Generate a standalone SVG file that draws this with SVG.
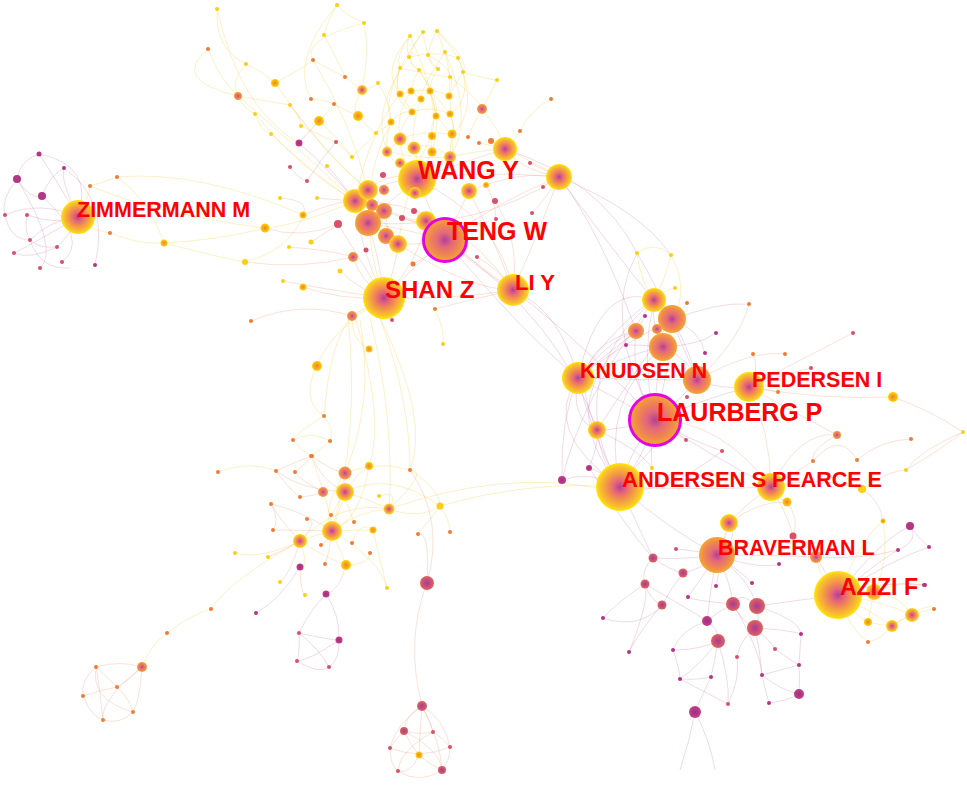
<svg xmlns="http://www.w3.org/2000/svg" width="967" height="786" viewBox="0 0 967 786">
<defs>
<radialGradient id="gY"><stop offset="0" stop-color="#b0409a"/><stop offset="0.25" stop-color="#e4637a"/><stop offset="0.55" stop-color="#f39448"/><stop offset="0.85" stop-color="#f9c32c"/><stop offset="1" stop-color="#ffe800"/></radialGradient>
<radialGradient id="gO"><stop offset="0" stop-color="#b0409a"/><stop offset="0.35" stop-color="#e4687a"/><stop offset="0.75" stop-color="#f08a4c"/><stop offset="1" stop-color="#f6a832"/></radialGradient>
<radialGradient id="gR"><stop offset="0" stop-color="#a8389a"/><stop offset="1" stop-color="#e0645a"/></radialGradient>
<radialGradient id="gP"><stop offset="0" stop-color="#9a2c96"/><stop offset="1" stop-color="#c8407a"/></radialGradient>
<radialGradient id="gS"><stop offset="0" stop-color="#ee8030"/><stop offset="1" stop-color="#ffd400"/></radialGradient>
</defs>
<style>
path{fill:none;stroke-width:.7}
.ey{stroke:#f5cf48;opacity:.45}
.eo{stroke:#eba184;opacity:.45}
.ep{stroke:#c97aa6;opacity:.4}
.dy{fill:#fbcf14}.do{fill:#f07c34}.dp{fill:#b43486}.dr{fill:#d9506a}
.cY{fill:url(#gY)}.cO{fill:url(#gO)}.cR{fill:url(#gR)}.cP{fill:url(#gP)}.cS{fill:url(#gS)}
.ring{fill:none;stroke:#e600e6;stroke-width:3}
text{font-family:"Liberation Sans",Arial,sans-serif;font-weight:bold;fill:#ff0000}
</style>
<rect width="967" height="786" fill="#ffffff"/>
<g id="edges">
<path class="ep" d="M78 217Q50 170 39 154M78 217Q60 180 64 168M39 154Q20 160 17 179M17 179Q30 200 42 196M64 168Q50 175 42 196M5 215Q40 200 78 217M27 215Q55 225 78 217M30 240Q50 220 78 217M57 247Q70 235 78 217M14 253Q40 240 78 217M5 215Q10 240 30 240M14 253Q30 260 57 247M39 154Q95 165 78 217M17 179Q0 200 5 215M27 215Q20 250 57 247M30 240Q40 270 70 268M64 168Q110 200 95 265M17 179Q60 250 40 268M42 196Q90 240 62 262"/>
<path class="ey" d="M78 217Q90 195 90 186M90 186Q110 180 117 177M117 177Q150 200 164 243M110 233Q90 230 78 217M110 233Q140 245 164 243M164 243Q220 240 265 228M90 186Q160 215 265 228M117 177Q200 170 303 215M265 228Q300 225 355 201M164 243Q230 260 245 262M245 262Q290 250 303 215"/>
<path class="ey" d="M217 9Q215 50 246 64M246 64Q230 80 238 96M208 49Q220 80 238 96M246 64Q260 70 275 83M238 96Q260 100 290 105M238 96Q245 110 255 114M255 114Q260 130 271 134M290 105Q300 115 301 126M337 5Q345 15 364 23M324 35Q330 15 337 5M364 23Q370 50 362 90M324 35Q340 65 345 77M313 60Q330 70 345 77M345 77Q355 85 362 90M311 99Q325 100 334 104M334 104Q345 110 358 116M319 121Q330 110 334 104M336 142Q345 150 352 157M352 157Q370 140 376 133M362 90Q380 85 378 83M378 83Q390 100 391 122M238 96Q300 150 355 201M275 83Q320 150 368 190M255 114Q300 170 355 201M290 105Q330 160 368 190M271 134Q320 180 355 201M313 60Q350 120 368 190M217 9Q240 110 299 143M337 5Q290 60 311 99M364 23Q300 40 313 60M208 49Q170 80 238 96M301 126Q330 140 336 142M358 116Q370 130 376 133M319 121Q340 140 352 157M275 83Q300 70 313 60M362 90Q350 110 358 116"/>
<path class="ep" d="M299 143Q310 130 319 121M299 143Q330 170 355 201M336 142Q320 160 307 181M290 167Q300 180 307 181M327 166Q340 180 355 201"/>
<path class="ey" d="M410 36Q405 45 409 57M410 36Q395 55 400 68M423 32Q425 45 428 55M437 31Q440 40 445 52M437 31Q450 45 458 58M409 57Q410 65 419 70M428 55Q430 62 438 69M445 52Q448 65 450 77M458 58Q462 65 463 72M400 68Q395 80 400 94M419 70Q412 80 411 91M438 69Q430 80 430 91M450 77Q450 85 449 96M463 72Q455 85 449 96M400 94Q405 100 412 112M411 91Q415 95 421 99M430 91Q435 105 436 116M449 96Q452 105 450 114M412 112Q400 125 400 139M436 116Q430 125 432 136M450 114Q455 125 452 134M391 122Q385 140 387 151M400 139Q405 145 414 148M432 136Q430 145 432 152M452 134Q450 145 450 157M410 36Q380 70 400 94M437 31Q470 60 463 72M400 68Q390 100 412 112M463 72Q470 100 450 114M409 57Q440 50 458 58M400 68Q430 75 450 77M400 94Q430 85 449 96M412 112Q430 105 450 114M400 139Q420 130 452 134M414 148Q430 140 450 157M387 151Q420 160 450 157M423 32Q400 60 419 70M437 31Q420 60 438 69M428 55Q460 70 449 96M445 52Q420 90 421 99M419 70Q440 100 436 116M411 91Q395 115 400 139M430 91Q460 120 452 134M421 99Q410 130 414 148M436 116Q460 140 450 157M391 122Q400 110 412 112M376 133Q390 125 391 122M387 151Q395 145 400 139M414 148Q420 165 417 179M432 152Q425 165 417 179M450 157Q430 170 417 179M400 139Q400 160 417 179M387 152Q400 170 417 179M497 80Q490 95 482 109M551 99Q530 110 520 131M520 131Q515 140 505 149M505 149Q530 160 559 177M482 109Q470 130 468 137M482 109Q500 130 505 149M479 143Q490 145 505 149M463 72Q490 80 497 80M450 77Q480 100 482 109M450 157Q480 150 505 149M384 298Q350 200 391 122M355 201Q370 130 400 94M398 244Q410 170 432 136M423 32Q380 90 391 122M458 58Q480 110 452 134M409 57Q370 110 387 151M445 52Q475 120 450 157M410 36Q440 100 432 136M419 70Q445 110 432 152"/>
<path class="eo" d="M445 240Q430 210 417 179M445 240Q410 270 384 298M445 240Q480 270 513 290M445 240Q500 200 559 177M445 240Q410 230 368 223M445 240Q420 245 398 244M445 240Q435 230 426 221M445 240Q460 210 469 191M445 240Q400 210 355 201M417 179Q480 170 559 177M417 179Q380 180 355 201M417 179Q470 160 505 149M384 298Q450 300 513 290M384 298Q380 260 368 223M384 298Q395 270 398 244M384 298Q420 260 426 221M559 177Q540 230 513 290M505 149Q520 170 559 177M469 191Q490 230 513 290M355 201Q360 250 384 298M368 190Q390 170 417 179M426 221Q470 260 513 290M338 224Q360 260 384 298M303 215Q340 200 355 201M353 257Q360 280 384 298M303 287Q340 300 384 298M245 262Q300 270 353 257M265 228Q300 240 338 224M355 201Q385 215 398 244M368 223Q390 200 417 179M372 205Q400 220 426 221M384 211Q390 230 386 236M368 190Q370 205 368 223M486 185Q495 200 496 219M495 201Q520 240 513 290M530 163Q545 170 559 177M543 187Q550 180 559 177M532 213Q545 200 559 177M477 257Q500 270 513 290M435 309Q470 300 513 290M413 264Q440 250 445 240M352 316Q370 305 384 298M289 247Q330 250 353 257M283 281Q330 290 384 298M251 321Q300 300 352 316M340 271Q360 290 384 298M311 242Q330 230 338 224M280 198Q310 200 303 215M317 198Q340 200 355 201M402 218Q420 225 426 221M414 211Q430 225 445 240M417 179Q500 220 513 290M355 201Q450 200 513 290M368 223Q480 230 559 177M469 191Q520 170 559 177M398 244Q470 290 513 290"/>
<path class="ep" d="M445 240Q520 330 578 378M513 290Q560 310 578 378M559 177Q620 260 654 300M559 177Q600 230 636 331M513 290Q580 340 655 420M445 240Q560 320 597 430M505 149Q600 180 637 253M559 177Q640 210 671 255"/>
<path class="ey" d="M384 298Q330 330 317 366M352 316Q350 340 369 349M317 366Q300 400 324 416M360 320Q375 400 345 473M356 320Q385 420 369 466M348 318Q360 430 332 531M380 318Q410 400 410 470M370 318Q395 420 389 509M324 416Q300 430 293 440M324 416Q335 430 330 441M293 440Q300 450 311 456M330 441Q320 450 311 456M293 440Q312 430 330 441M311 456Q320 480 323 492M352 316Q330 340 324 416M435 309Q445 330 443 344"/>
<path class="ey" d="M332 531Q340 510 345 492M332 531Q315 535 300 541M332 531Q340 550 346 565M332 531Q360 510 389 509M332 531Q355 530 373 530M332 531Q330 510 323 492M345 492Q370 500 389 509M345 492Q360 470 369 466M300 541Q310 570 300 567M346 565Q370 565 370 553M345 473Q380 460 410 470M389 509Q420 520 440 506M389 509Q430 470 410 470M440 506Q450 520 450 532M418 534Q430 520 440 506M410 470Q440 490 440 506M387 588Q380 560 373 530M352 543Q360 520 373 530M218 472Q250 460 276 471M331 515Q340 500 345 492M354 522Q345 500 345 492M379 496Q400 490 389 509M300 541Q260 560 235 553M300 541Q230 580 211 609M211 609Q190 615 167 633M167 633Q150 645 142 667M332 531Q380 560 387 588M345 492Q390 470 440 506M300 541Q340 500 389 509M389 509Q500 470 598 488M440 506Q530 480 620 487M410 470Q430 420 380 318M300 541Q330 560 346 565M345 473Q320 510 332 531M369 466Q360 520 332 531"/>
<path class="eo" d="M332 531Q300 510 271 504M332 531Q300 530 273 530M345 492Q345 480 345 473M345 492Q320 480 312 456M345 492Q300 490 276 471M300 541Q280 520 271 504M300 541Q285 550 268 557M300 541Q290 575 280 582M346 565Q340 590 326 594M300 567Q300 590 305 595M276 471Q300 460 312 456M295 472Q310 460 312 456M300 541Q320 520 307 519M300 497Q320 495 323 492M321 545Q330 540 332 531M325 564Q330 550 332 531M271 504Q280 520 273 530M276 471Q290 490 300 497M345 473Q330 470 312 456M323 492Q300 480 295 472"/>
<path class="ep" d="M326 594Q310 610 299 633M326 594Q340 615 339 640M299 633Q300 650 297 661M299 633Q320 650 329 667M339 640Q340 660 329 667M297 661Q320 675 329 667M299 633Q330 640 339 640M339 640Q310 660 297 661M300 567Q280 600 256 613"/>
<path class="eo" d="M142 667Q120 660 96 667M142 667Q130 680 117 687M142 667Q140 700 133 712M96 667Q80 680 83 696M96 667Q100 690 103 720M117 687Q100 690 83 696M117 687Q130 700 133 712M83 696Q90 715 103 720M103 720Q120 725 133 712M96 667Q110 680 117 687M142 667Q100 700 103 720M96 667Q90 700 133 712"/>
<path class="eo" d="M427 583Q430 530 418 534M427 583Q445 520 410 470M427 583Q405 640 422 706M422 706Q405 715 404 731M422 706Q420 730 419 755M422 706Q440 740 442 770M422 706Q395 725 390 748M422 706Q445 720 450 747M422 706Q430 720 433 732M404 731Q395 740 390 748M404 731Q410 745 419 755M433 732Q445 740 450 747M390 748Q390 765 398 771M419 755Q430 765 442 770M450 747Q450 760 442 770M398 771Q410 775 419 755M404 731Q420 735 433 732M390 748Q420 760 450 747M398 771Q420 785 442 770M404 731Q440 750 442 770M433 732Q400 750 398 771"/>
<path class="ep" d="M655 420Q610 395 578 378M655 420Q680 400 697 380M655 420Q655 380 663 347M655 420Q670 370 672 319M655 420Q640 360 654 300M655 420Q630 380 636 331M655 420Q620 430 597 430M655 420Q630 450 620 487M655 420Q645 455 620 487M655 420Q700 400 749 387M655 420Q720 460 771 487M578 378Q610 340 636 331M578 378Q620 320 654 300M578 378Q640 350 663 347M578 378Q640 380 697 380M578 378Q590 430 620 487M578 378Q570 420 597 430M697 380Q720 390 749 387M697 380Q690 350 672 319M663 347Q690 360 697 380M654 300Q650 320 663 347M620 487Q600 460 597 430M620 487Q590 470 562 480M620 487Q600 470 589 468M578 378Q560 420 562 480M636 331Q600 360 578 378M578 378Q600 280 654 300M597 430Q560 350 636 331M620 487Q550 400 636 331M620 487Q560 380 654 300M620 487Q540 430 578 378M672 319Q700 330 705 353M663 347Q700 345 716 333M645 316Q640 325 636 331M626 345Q650 345 663 347M686 440Q670 430 655 420M660 441Q640 460 620 487M722 451Q690 440 655 420M652 468Q650 440 655 420M620 487Q660 500 722 451M597 430Q640 450 652 468M589 468Q600 440 597 430M578 378Q680 300 749 304M697 380Q660 290 637 253M655 420Q600 320 637 253M620 487Q600 400 663 347M597 430Q630 380 672 319M562 480Q580 400 654 300"/>
<path class="ey" d="M637 253Q640 280 654 300M671 255Q665 280 654 300M637 253Q655 240 671 255M675 288Q665 290 654 300M687 303Q680 310 672 319M672 319Q690 290 671 255"/>
<path class="eo" d="M749 387Q800 360 853 333M749 387Q820 400 893 397M749 387Q790 410 837 435M697 380Q750 350 785 354M697 380Q740 340 749 304M749 387Q760 370 753 354M749 387Q780 375 811 368M778 392Q765 390 749 387M771 487Q800 470 813 461M771 487Q820 475 862 489M771 487Q750 500 729 523M771 487Q780 500 787 502M771 487Q790 520 793 536M813 461Q840 430 857 460M893 397Q930 410 963 432M963 432Q920 450 906 470M857 460Q880 440 911 439M837 435Q810 450 813 461M749 387Q770 430 771 487M655 420Q720 420 771 487M620 487Q700 490 771 487M771 487Q800 430 837 435M862 489Q890 470 906 470M729 523Q760 500 787 502M729 523Q740 540 717 555M787 502Q800 520 793 536M793 536Q810 545 816 557M862 489Q880 500 883 521M906 470Q940 450 963 432"/>
<path class="ep" d="M717 555Q725 540 729 523M717 555Q690 550 676 549M717 555Q700 570 683 573M717 555Q680 560 653 558M717 555Q730 580 733 604M717 555Q750 580 757 606M717 555Q760 570 779 564M717 555Q770 555 816 557M717 555Q710 590 707 621M717 555Q700 580 688 597M717 555Q720 575 716 586M717 555Q745 575 752 583M653 558Q640 570 645 584M645 584Q650 600 662 605M683 573Q670 590 662 605M653 558Q670 570 683 573M645 584Q620 600 603 618M662 605Q640 630 629 652M733 604Q740 620 755 628M757 606Q760 620 755 628M707 621Q720 630 718 641M733 604Q720 610 707 621M755 628Q740 640 737 657M755 628Q770 640 775 649M755 628Q790 630 801 634M755 628Q760 650 762 675M718 641Q700 650 673 650M718 641Q700 665 680 679M718 641Q715 660 711 677M718 641Q730 680 728 704M711 677Q700 700 695 712M673 650Q680 670 680 679M680 679Q700 680 711 677M762 675Q780 690 799 694M762 675Q765 690 769 703M799 665Q800 680 799 694M799 665Q780 670 762 675M775 649Q790 660 799 665M801 634Q800 650 799 665M769 703Q790 700 799 694M695 712Q690 740 680 770M695 712Q710 740 715 770M757 606Q800 600 838 595M816 557Q830 580 838 595M733 604Q690 600 688 597M707 621Q680 630 673 650M620 487Q670 530 717 555M589 467Q620 520 653 558M620 487Q640 530 653 558M645 584Q690 610 707 621M757 606Q740 590 733 604M737 657Q740 680 728 704M680 679Q720 700 728 704M603 618Q640 630 662 605M629 652Q650 600 645 584M733 604Q760 650 762 675M757 606Q800 620 801 634M838 595Q880 560 898 550M838 595Q880 540 910 526M838 595Q890 560 929 547M838 595Q880 580 925 585M816 557Q860 560 898 550M910 526Q920 540 929 547M898 550Q920 540 910 526"/>
<path class="ey" d="M838 595Q860 590 874 592M838 595Q870 610 892 626M838 595Q855 615 868 622M838 595Q880 600 912 615M838 595Q850 630 868 642M874 592Q900 595 912 615M892 626Q900 620 912 615M868 622Q880 625 892 626M874 592Q900 580 924 585M912 615Q925 610 934 609M868 642Q880 640 892 626M838 595Q860 540 883 521M874 592Q890 560 883 521M838 595Q820 580 816 557M892 626Q930 600 934 609M874 592Q870 610 868 622"/>
</g>
<g id="dots">
<circle class="dp" cx="39" cy="154" r="2.5"/><circle class="dp" cx="64" cy="168" r="2"/><circle class="dp" cx="17" cy="179" r="4"/><circle class="dp" cx="42" cy="196" r="4"/><circle class="dr" cx="5" cy="215" r="2"/><circle class="dr" cx="27" cy="215" r="2"/><circle class="dr" cx="30" cy="240" r="2"/><circle class="dr" cx="57" cy="247" r="2"/><circle class="dr" cx="14" cy="253" r="2"/><circle class="dr" cx="40" cy="268" r="2"/><circle class="dr" cx="62" cy="262" r="2"/><circle class="dp" cx="95" cy="265" r="2"/>
<circle class="do" cx="90" cy="186" r="2"/><circle class="do" cx="117" cy="177" r="2"/><circle class="do" cx="110" cy="233" r="2"/><circle class="cS" cx="164" cy="243" r="3.5"/><circle class="cS" cx="265" cy="228" r="4.5"/><circle class="dy" cx="245" cy="262" r="3"/><circle class="cS" cx="303" cy="215" r="3.5"/>
<circle class="dy" cx="217" cy="9" r="2"/><circle class="dy" cx="246" cy="64" r="2"/><circle class="do" cx="208" cy="49" r="2"/><circle class="cO" cx="238" cy="96" r="4"/><circle class="cS" cx="275" cy="83" r="4"/><circle class="dy" cx="290" cy="105" r="2"/><circle class="dy" cx="255" cy="114" r="2"/><circle class="dy" cx="271" cy="134" r="2"/><circle class="dy" cx="337" cy="5" r="2"/><circle class="dy" cx="364" cy="23" r="2"/><circle class="dy" cx="324" cy="35" r="2"/><circle class="do" cx="313" cy="60" r="2"/><circle class="do" cx="345" cy="77" r="2"/><circle class="cY" cx="362" cy="90" r="5"/><circle class="dy" cx="378" cy="83" r="2"/><circle class="do" cx="311" cy="99" r="2"/><circle class="do" cx="334" cy="104" r="2"/><circle class="cS" cx="319" cy="121" r="5"/><circle class="cS" cx="358" cy="116" r="5"/><circle class="dy" cx="301" cy="126" r="2"/><circle class="cP" cx="299" cy="143" r="3.5"/><circle class="dr" cx="336" cy="142" r="2"/><circle class="dy" cx="376" cy="133" r="2"/><circle class="dy" cx="352" cy="157" r="2"/><circle class="dy" cx="497" cy="80" r="2"/><circle class="do" cx="551" cy="99" r="2"/><circle class="do" cx="520" cy="131" r="2"/><circle class="do" cx="468" cy="137" r="2"/><circle class="do" cx="479" cy="143" r="2"/><circle class="cO" cx="482" cy="109" r="5"/><circle class="do" cx="491" cy="141" r="3"/>
<circle class="dy" cx="410" cy="36" r="2"/><circle class="dy" cx="423" cy="32" r="2"/><circle class="dy" cx="437" cy="31" r="2"/><circle class="dy" cx="409" cy="57" r="2"/><circle class="dy" cx="428" cy="55" r="2"/><circle class="dy" cx="445" cy="52" r="2"/><circle class="dy" cx="458" cy="58" r="2"/><circle class="dy" cx="400" cy="68" r="2"/><circle class="dy" cx="419" cy="70" r="2"/><circle class="dy" cx="438" cy="69" r="2"/><circle class="dy" cx="450" cy="77" r="2"/><circle class="dy" cx="463" cy="72" r="2"/>
<circle class="cS" cx="400" cy="94" r="3.5"/><circle class="cS" cx="411" cy="91" r="3.5"/><circle class="cS" cx="430" cy="91" r="3.5"/><circle class="cS" cx="421" cy="99" r="3.5"/><circle class="cS" cx="449" cy="96" r="3.5"/><circle class="cS" cx="412" cy="112" r="3.5"/><circle class="cS" cx="436" cy="116" r="3.5"/><circle class="cS" cx="450" cy="114" r="3.5"/><circle class="cS" cx="391" cy="122" r="3.5"/><circle class="cS" cx="432" cy="136" r="4"/><circle class="cS" cx="452" cy="134" r="4.5"/><circle class="cY" cx="400" cy="139" r="6.5"/><circle class="cY" cx="414" cy="148" r="6.5"/><circle class="cS" cx="387" cy="151" r="4.5"/><circle class="cS" cx="432" cy="152" r="4.5"/><circle class="cY" cx="450" cy="157" r="6"/>
<circle class="cY" cx="505" cy="149" r="12"/><circle class="cY" cx="559" cy="177" r="13"/><circle class="dr" cx="530" cy="163" r="2"/><circle class="dr" cx="543" cy="187" r="2"/><circle class="dr" cx="532" cy="213" r="2"/><circle class="cS" cx="486" cy="185" r="3"/><circle class="dr" cx="495" cy="201" r="3"/><circle class="dr" cx="496" cy="219" r="2"/><circle class="dr" cx="477" cy="257" r="2"/><circle class="do" cx="435" cy="309" r="2"/><circle class="dy" cx="443" cy="344" r="2"/>
<circle class="cY" cx="355" cy="201" r="12"/><circle class="cY" cx="368" cy="190" r="10"/><circle class="cO" cx="372" cy="205" r="6"/><circle class="cO" cx="384" cy="190" r="5"/><circle class="dr" cx="383" cy="175" r="3"/><circle class="cO" cx="384" cy="211" r="8"/><circle class="cO" cx="368" cy="223" r="13"/><circle class="cO" cx="386" cy="236" r="8"/><circle class="cY" cx="398" cy="244" r="9"/><circle class="cY" cx="426" cy="221" r="10"/><circle class="dr" cx="402" cy="218" r="3"/><circle class="dr" cx="414" cy="211" r="3"/><circle class="cY" cx="469" cy="191" r="8"/><circle class="cY" cx="387" cy="152" r="5"/><circle class="cY" cx="400" cy="163" r="5"/><circle class="dr" cx="338" cy="224" r="4"/><circle class="cO" cx="353" cy="257" r="5"/><circle class="dr" cx="366" cy="250" r="2.5"/><circle class="dy" cx="340" cy="271" r="2.5"/><circle class="cS" cx="303" cy="287" r="3.5"/><circle class="do" cx="413" cy="264" r="2.5"/><circle class="dy" cx="311" cy="242" r="2.5"/><circle class="dr" cx="290" cy="167" r="2"/><circle class="dr" cx="307" cy="181" r="2"/><circle class="dy" cx="327" cy="166" r="2"/><circle class="dy" cx="280" cy="198" r="2"/><circle class="dy" cx="317" cy="198" r="2"/><circle class="dy" cx="289" cy="247" r="2"/><circle class="dy" cx="283" cy="281" r="2"/><circle class="do" cx="251" cy="321" r="2"/><circle class="cO" cx="352" cy="316" r="5"/><circle class="cS" cx="369" cy="349" r="3.5"/><circle class="cS" cx="317" cy="366" r="5"/><circle class="dr" cx="392" cy="320" r="2"/>
<circle class="do" cx="324" cy="416" r="2"/><circle class="do" cx="293" cy="440" r="2"/><circle class="do" cx="330" cy="441" r="2"/><circle class="do" cx="311" cy="456" r="2"/>
<circle class="cO" cx="345" cy="473" r="6.5"/><circle class="cY" cx="345" cy="492" r="9"/><circle class="cO" cx="323" cy="492" r="5"/><circle class="cS" cx="369" cy="466" r="4"/><circle class="cY" cx="332" cy="531" r="10"/><circle class="cY" cx="300" cy="541" r="7"/><circle class="cS" cx="346" cy="565" r="5"/><circle class="cY" cx="389" cy="509" r="5.5"/><circle class="cS" cx="373" cy="530" r="3.5"/><circle class="dy" cx="440" cy="506" r="3.5"/><circle class="do" cx="410" cy="470" r="2"/><circle class="do" cx="418" cy="534" r="2"/><circle class="do" cx="450" cy="532" r="2"/><circle class="dy" cx="387" cy="588" r="2"/><circle class="do" cx="218" cy="472" r="2"/><circle class="do" cx="276" cy="471" r="2"/><circle class="do" cx="295" cy="472" r="2"/><circle class="do" cx="312" cy="456" r="2"/><circle class="do" cx="300" cy="497" r="2"/><circle class="do" cx="271" cy="504" r="2"/><circle class="do" cx="273" cy="530" r="2"/><circle class="do" cx="307" cy="519" r="2"/><circle class="do" cx="331" cy="515" r="2"/><circle class="do" cx="354" cy="522" r="2"/><circle class="do" cx="352" cy="543" r="2"/><circle class="do" cx="370" cy="553" r="2"/><circle class="do" cx="321" cy="545" r="2"/><circle class="do" cx="325" cy="564" r="2"/><circle class="dy" cx="379" cy="496" r="2"/><circle class="dy" cx="235" cy="553" r="2"/><circle class="dy" cx="268" cy="557" r="2"/><circle class="dy" cx="280" cy="582" r="2"/><circle class="dy" cx="305" cy="595" r="2"/><circle class="cP" cx="300" cy="567" r="3.5"/><circle class="cP" cx="326" cy="594" r="3.5"/><circle class="dp" cx="256" cy="613" r="2"/><circle class="do" cx="211" cy="609" r="2"/><circle class="do" cx="167" cy="633" r="2"/>
<circle class="cP" cx="339" cy="640" r="3.5"/><circle class="dr" cx="299" cy="633" r="2"/><circle class="dr" cx="297" cy="661" r="2"/><circle class="dr" cx="329" cy="667" r="2"/>
<circle class="cO" cx="142" cy="667" r="5"/><circle class="do" cx="96" cy="667" r="2"/><circle class="do" cx="117" cy="687" r="2"/><circle class="do" cx="83" cy="696" r="2"/><circle class="do" cx="103" cy="720" r="2"/><circle class="do" cx="133" cy="712" r="2"/>
<circle class="cR" cx="427" cy="583" r="7"/><circle class="cR" cx="422" cy="706" r="5"/><circle class="cR" cx="404" cy="731" r="4"/><circle class="cS" cx="419" cy="755" r="3.5"/><circle class="cR" cx="442" cy="770" r="4"/><circle class="dr" cx="390" cy="748" r="2"/><circle class="dr" cx="450" cy="747" r="2"/><circle class="dr" cx="433" cy="732" r="2"/><circle class="dr" cx="398" cy="771" r="2"/>
<circle class="cY" cx="654" cy="300" r="12"/><circle class="cO" cx="672" cy="319" r="14"/><circle class="cO" cx="636" cy="331" r="8"/><circle class="cO" cx="657" cy="329" r="5"/><circle class="cO" cx="663" cy="347" r="14"/><circle class="cO" cx="697" cy="380" r="14"/><circle class="cY" cx="597" cy="430" r="9"/><circle class="dy" cx="637" cy="253" r="2"/><circle class="dy" cx="671" cy="255" r="2"/><circle class="dy" cx="675" cy="288" r="2"/><circle class="do" cx="687" cy="303" r="2"/><circle class="dp" cx="645" cy="316" r="2"/><circle class="dp" cx="626" cy="345" r="2"/><circle class="dp" cx="705" cy="353" r="2"/><circle class="dp" cx="716" cy="333" r="2"/><circle class="do" cx="749" cy="304" r="2"/><circle class="do" cx="753" cy="354" r="2"/><circle class="do" cx="785" cy="354" r="2"/><circle class="dr" cx="811" cy="368" r="2"/><circle class="dr" cx="853" cy="333" r="2"/><circle class="cS" cx="893" cy="397" r="5"/><circle class="cO" cx="837" cy="435" r="4"/><circle class="do" cx="813" cy="461" r="2"/><circle class="do" cx="857" cy="460" r="2"/><circle class="dy" cx="862" cy="489" r="4"/><circle class="dy" cx="963" cy="432" r="2"/><circle class="do" cx="911" cy="439" r="2"/><circle class="dy" cx="906" cy="470" r="2"/><circle class="dr" cx="722" cy="451" r="2"/><circle class="dr" cx="686" cy="440" r="2"/><circle class="dr" cx="687" cy="397" r="2"/><circle class="dr" cx="660" cy="441" r="2"/><circle class="dy" cx="652" cy="468" r="2"/><circle class="do" cx="778" cy="392" r="2"/><circle class="cP" cx="562" cy="480" r="4"/><circle class="cP" cx="589" cy="468" r="3"/>
<circle class="cY" cx="729" cy="523" r="9"/><circle class="cS" cx="787" cy="502" r="4.5"/><circle class="cS" cx="883" cy="521" r="2.5"/><circle class="dr" cx="793" cy="536" r="3.5"/><circle class="cO" cx="816" cy="557" r="6"/><circle class="dp" cx="910" cy="526" r="4"/><circle class="dp" cx="929" cy="547" r="2"/><circle class="dp" cx="898" cy="550" r="2"/><circle class="dp" cx="925" cy="585" r="2"/><circle class="dr" cx="676" cy="549" r="2"/><circle class="dp" cx="779" cy="564" r="2"/>
<circle class="cR" cx="653" cy="558" r="4.5"/><circle class="cR" cx="683" cy="573" r="4.5"/><circle class="cR" cx="645" cy="584" r="4.5"/><circle class="cR" cx="662" cy="605" r="4.5"/><circle class="cR" cx="733" cy="604" r="7"/><circle class="cR" cx="757" cy="606" r="8"/><circle class="cR" cx="755" cy="628" r="8"/><circle class="cP" cx="707" cy="621" r="5"/><circle class="cR" cx="718" cy="641" r="7"/><circle class="cP" cx="695" cy="712" r="6"/><circle class="cP" cx="799" cy="694" r="5"/><circle class="dp" cx="603" cy="618" r="2"/><circle class="dp" cx="629" cy="652" r="2"/><circle class="dp" cx="673" cy="650" r="2"/><circle class="dp" cx="680" cy="679" r="2"/><circle class="dp" cx="711" cy="677" r="2"/><circle class="dr" cx="728" cy="704" r="2"/><circle class="dr" cx="737" cy="657" r="2"/><circle class="dr" cx="775" cy="649" r="2"/><circle class="dp" cx="801" cy="634" r="2"/><circle class="dp" cx="799" cy="665" r="2"/><circle class="dp" cx="762" cy="675" r="2"/><circle class="dp" cx="769" cy="703" r="2"/><circle class="dp" cx="752" cy="583" r="2"/><circle class="dp" cx="716" cy="586" r="2"/><circle class="dp" cx="688" cy="597" r="2"/>
<circle class="cY" cx="874" cy="592" r="8"/><circle class="cY" cx="912" cy="615" r="7"/><circle class="cY" cx="892" cy="626" r="6"/><circle class="cS" cx="868" cy="622" r="4"/><circle class="do" cx="868" cy="642" r="2"/><circle class="do" cx="934" cy="609" r="2"/><circle class="dp" cx="924" cy="585" r="2"/>
</g>
<g id="n-zimmermann"><circle class="cY" cx="78" cy="217" r="17"/></g>
<g id="n-wang"><circle class="cY" cx="417" cy="179" r="19"/><circle class="cY" cx="415" cy="193" r="6"/></g>
<g id="n-shan"><circle class="cY" cx="384" cy="298" r="21"/></g>
<g id="n-liy"><circle class="cY" cx="513" cy="290" r="16"/></g>
<g id="n-teng"><circle class="cO" cx="445" cy="240" r="21"/><circle class="ring" cx="445" cy="240" r="21.5"/></g>
<g id="n-knudsen"><circle class="cY" cx="578" cy="378" r="16"/></g>
<g id="n-pedersen"><circle class="cY" cx="749" cy="387" r="15"/></g>
<g id="n-laurberg"><circle class="cO" cx="655" cy="420" r="25"/><circle class="ring" cx="655" cy="420" r="25.5"/></g>
<g id="n-andersen"><circle class="cY" cx="620" cy="487" r="24"/></g>
<g id="n-pearce"><circle class="cY" cx="771" cy="487" r="14"/></g>
<g id="n-braverman"><circle class="cO" cx="717" cy="555" r="18"/></g>
<g id="n-azizi"><circle class="cY" cx="838" cy="595" r="24"/></g>
<g id="labels">
<text x="77" y="217" font-size="21.5">ZIMMERMANN M</text>
<text x="418" y="179" font-size="25">WANG Y</text>
<text x="447" y="240" font-size="25">TENG W</text>
<text x="385" y="298" font-size="24">SHAN Z</text>
<text x="515" y="290" font-size="22">LI Y</text>
<text x="580" y="378" font-size="21.4">KNUDSEN N</text>
<text x="752" y="387" font-size="21.5">PEDERSEN I</text>
<text x="657" y="421" font-size="25">LAURBERG P</text>
<text x="622" y="487" font-size="22">ANDERSEN S</text>
<text x="772" y="487" font-size="21.5">PEARCE E</text>
<text x="718" y="555" font-size="21.4">BRAVERMAN L</text>
<text x="840" y="595" font-size="23">AZIZI F</text>
</g>
</svg>
